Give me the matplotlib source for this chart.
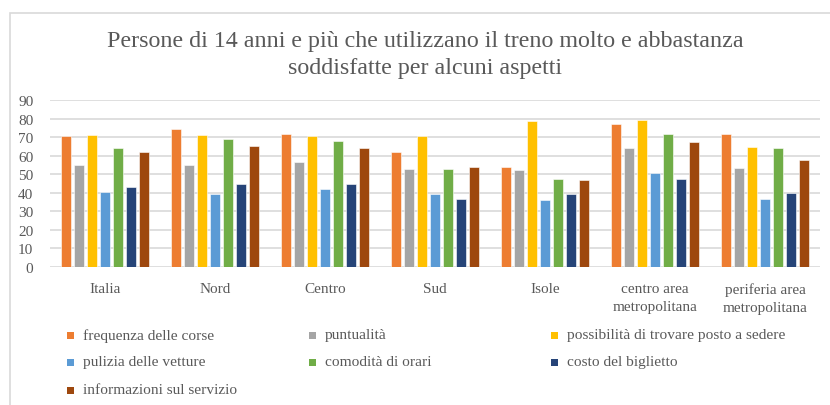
import numpy as np
import matplotlib
matplotlib.use('Agg')
import matplotlib.pyplot as plt
from matplotlib.patches import Rectangle

# regions (x categories)
regioni = ['Italia', 'Nord', 'Centro', 'Sud', 'Isole',
           'centro area\nmetropolitana', 'periferia area\nmetropolitana']

# aspects (series)
aspetti = ['frequenza delle corse', 'puntualità',
           'possibilità di trovare posto a sedere',
           'pulizia delle vetture', 'comodità di orari',
           'costo del biglietto', 'informazioni sul servizio']

frequenza = [70.6, 74.3, 71.9, 62.1, 54.1, 76.8, 71.5]
puntualita = [54.8, 54.9, 56.6, 53.0, 52.1, 64.1, 53.4]
posto = [71.1, 71.1, 70.7, 70.6, 78.7, 79.3, 64.8]
pulizia = [40.2, 39.6, 41.9, 39.3, 36.0, 50.9, 36.4]
comodita = [64.3, 68.8, 67.9, 52.7, 47.6, 71.6, 63.9]
costo = [42.9, 44.6, 44.6, 36.5, 39.6, 47.3, 40.1]
informazioni = [62.1, 65.2, 64.3, 53.9, 46.8, 67.4, 57.6]

valori = [frequenza, puntualita, posto, pulizia, comodita, costo, informazioni]
colori = ['#ED7D31', '#A5A5A5', '#FFC000', '#5B9BD5', '#70AD47', '#264478', '#9E480E']

plt.rcParams['font.family'] = ['Liberation Serif', 'DejaVu Serif']

fig = plt.figure(figsize=(8.3, 4.06), dpi=100)
W, H = 830, 406

# outer chart border (runs off the right and bottom edges)
fig.patches.append(Rectangle((10 / W, -0.1), 1.2, 1 - 14 / H + 0.1,
                             transform=fig.transFigure, fill=False,
                             edgecolor='#d9d9d9', linewidth=1.2))

ax = fig.add_axes([50 / W, 1 - 268 / H, 770 / W, (268 - 101) / H])

x = np.arange(len(regioni))
step = 13 / 110
width = 10.5 / 110
for i, (serie, col) in enumerate(zip(valori, colori)):
    ax.bar(x + (i - 3) * step, serie, width, color=col,
           edgecolor='white', linewidth=0.4, zorder=3)

ax.set_xlim(-0.5, len(regioni) - 0.5)
ax.set_ylim(0, 90)
ax.set_yticks(range(0, 91, 10))
ax.yaxis.grid(True, color='#d9d9d9', linewidth=1.2, zorder=0)
ax.set_axisbelow(True)
for s in ax.spines.values():
    s.set_visible(False)
ax.set_xticks(x)
ax.set_xticklabels(regioni, linespacing=1.5)
ax.tick_params(axis='y', length=0, pad=12, labelsize=11, labelcolor='#595959')
ax.tick_params(axis='x', length=0, pad=11, labelsize=11, labelcolor='#595959')

fig.text(425 / W, 1 - 55 / H,
         'Persone di 14 anni e più che utilizzano il treno molto e abbastanza\n'
         'soddisfatte per alcuni aspetti',
         ha='center', va='center', fontsize=17.3, color='#595959', linespacing=1.35)

# legend, Excel-style grid: 3 columns, row-major
col_x = [70, 312, 554]
row_y = [336, 363, 391]
for i, (nome, col) in enumerate(zip(aspetti, colori)):
    r, c = divmod(i, 3)
    fig.patches.append(Rectangle(((col_x[c] - 3.5) / W, 1 - (row_y[r] + 3.5) / H),
                                 7 / W, 7 / H, transform=fig.transFigure,
                                 facecolor=col, edgecolor='none'))
    fig.text((col_x[c] + 13) / W, 1 - row_y[r] / H, nome, ha='left',
             va='center', fontsize=11.1, color='#595959')

plt.savefig('out.png', dpi=100)
